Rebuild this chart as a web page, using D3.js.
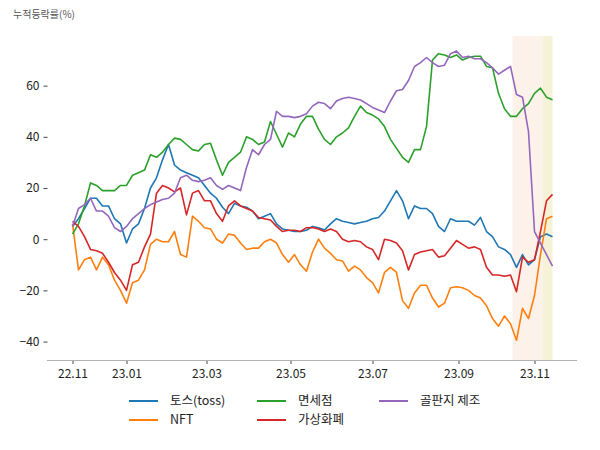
<!DOCTYPE html>
<meta charset="utf-8">

<!-- Load d3.js -->
<script src="https://d3js.org/d3.v7.min.js"></script>

<!-- Create a div where the graph will take place -->
<div id="my_dataviz"></div>

<style>
  body { margin: 0; background: #ffffff; }
  text { font-family: "Noto Sans CJK KR", "Noto Sans", sans-serif; }
</style>

<script>

// trading-day index of each sampled point (0 = 2022-11-23)
var days = [0,3,6,9,12,15,18,21,24,27,30,33,36,39,42,45,48,51,54,57,
  60,63,66,69,72,75,78,81,84,87,90,93,96,99,102,105,108,111,114,117,
  120,123,126,129,132,135,138,141,144,147,150,153,156,159,162,165,168,171,174,177,
  180,183,186,189,192,195,198,201,204,207,210,213,216,219,222,225,228,231,234,237,240];

// x tick labels and the trading day they sit on
var tickDays = [0, 27, 67, 109, 150, 193, 231];
var tickLabels = ["22.11", "23.01", "23.03", "23.05", "23.07", "23.09", "23.11"];

var yTicks = [-40, -20, 0, 20, 40, 60];

// shaded periods (trading day index)
var spanStart = [220, 235];
var spanEnd = [235, 240];

var seriesNames = ["토스(toss)", "NFT", "면세점", "가상화폐", "골판지 제조"];

var tossValues = [5,8,12,16,16,13,13,8,6,-1.5,
  4,6,12,20,24,31,37,29,27,26,
  25,24,21,18,16,12.5,10,14,13,12.5,
  11,8,9,10,6,4,3.5,3,3,3.5,
  5,4.5,3.6,6,8,7,6.5,6,6.5,7,
  8,8.5,11,15,19,15,8,13,12,12,
  10,5,3,8,7,7,7,5.5,8.5,3,
  1,-3,-4,-6,-11,-6,-10,-8,1,2,1];

var nftValues = [6,-12,-8,-7,-12,-7,-10,-16,-20,-25,
  -17,-16,-12,-2,0,-1,-1,3,-6,-7,
  9,7,4.5,4,0,-1.5,2,1.5,-1.5,-4,
  -3.5,-3.5,-1,0,-1.5,-6,-9,-6,-10,-12.5,
  -5,0,-3.5,-5.5,-8,-8.5,-12.5,-10.5,-12,-15,
  -17,-21,-13,-11,-13,-24,-27,-21,-18,-18,
  -23,-26.5,-25,-19,-18.6,-19,-20,-22,-23,-26,
  -31,-34,-30,-33,-39.5,-27,-31,-22,-6,8,9];

var dutyFreeValues = [2,6,13,22,21,19,19,19,21,21,
  25,26,27,33,32,34,37,39.5,39,37,
  35,34.5,37,37.5,31,25,30,32,34,40,
  39,37,38,46,41,36,41.5,40,45,48,
  48,43,39,37,40,41.5,43.5,48,52,49.5,
  48.5,47,44,39,35.5,32,30,35,35,44,
  70,72.5,72,71,72,70,71,71.5,71.5,67.5,
  67,57,51,48,48,51,53,57,59,55.5,54.5];

// note: "crypto" is taken by window.crypto, so use another name
var coinValues = [7,5,1,-4,-4.5,-5.5,-9,-13,-16,-20,
  -10,-9,-3,2,18,21,20,18.5,20,9.5,
  18,19,15,15,10,7,13,15,13,12,
  11,8.5,8,7.5,5,3,3.5,3.5,3,4.5,
  4.6,4,3,4,3,0,-1,-0.5,-1,-3,
  -4,-8,0,-0.5,-1.5,-4.5,-12,-6,-5,-4.5,
  -4,-7,-6.5,-3.5,-0.5,-2,-3.5,-3,-4,-11,
  -14,-14,-14.5,-14,-20.5,-7,-9,-8,3,15,17.5];

var boxboardValues = [5,12,13.5,16,11,11,9,4.5,3,5,
  8,10,12,13.5,14.5,15.5,16,18,24,25,
  23,22.5,23,24,21,19.5,21,20,19,28,
  35,33,37,39,50,48,48,47.5,48,49,
  52,53.5,53,51,54,55,55.5,55,54.4,53,
  51.5,50.5,49.5,54,58,58.5,62,67.5,69,71,
  69,67.5,68,72.5,73.5,71,71.5,70.5,70.5,69,
  67,64.5,66,67.5,56.5,55.5,42,3,-1.5,-6,-10.5];

var seriesValues = [tossValues, nftValues, dutyFreeValues, coinValues, boxboardValues];
var colors = ["#1f77b4", "#ff7f0e", "#2ca02c", "#d62728", "#9467bd"];
var spanColors = ["#fcf2ea", "#f5f2d8"];

// set the dimensions of the graph
var width = 600, height = 450;
var plotTop = 36, plotBottom = 360, plotLeft = 47, plotRight = 577;

var svg = d3.select("#my_dataviz")
  .append("svg")
    .attr("width", width)
    .attr("height", height);

// scales (x = trading day index, with 5% side margins)
var x = d3.scaleLinear()
  .domain([-12, 252])
  .range([48.5, 576.5]);

var y = d3.scaleLinear()
  .domain([-47.2, 79.4])
  .range([plotBottom, plotTop]);

// shaded periods
svg.selectAll("spans")
  .data(spanStart)
  .enter()
  .append("rect")
    .attr("x", function(d) { return x(d); })
    .attr("width", function(d, i) { return x(spanEnd[i]) - x(d); })
    .attr("y", plotTop)
    .attr("height", plotBottom - plotTop)
    .style("fill", function(d, i) { return spanColors[i]; });

// Y axis (no spine)
var yAxis = svg.append("g")
  .attr("transform", "translate(47.5,0)")
  .call(d3.axisLeft(y).tickValues(yTicks).tickSize(4).tickPadding(4));
yAxis.select(".domain").remove();
yAxis.selectAll("line").style("stroke", "#444");
yAxis.selectAll("text").style("font-size", "12px").style("fill", "#222");

// X axis
var xAxis = svg.append("g")
  .attr("transform", "translate(0," + plotBottom + ")")
  .call(d3.axisBottom(x)
    .tickValues(tickDays)
    .tickFormat(function(d, i) { return tickLabels[i]; })
    .tickSize(4).tickPadding(5));
xAxis.select(".domain").remove();
xAxis.selectAll("line").style("stroke", "#444");
xAxis.selectAll("text").style("font-size", "12px").style("fill", "#222");

svg.append("line")
  .attr("x1", plotLeft).attr("x2", plotRight)
  .attr("y1", plotBottom + 0.5).attr("y2", plotBottom + 0.5)
  .style("stroke", "#b0b0b0")
  .style("stroke-width", 1);

// Draw the lines
var line = d3.line()
  .x(function(d, i) { return x(days[i]); })
  .y(function(d) { return y(d); });

svg.selectAll("myPath")
  .data(seriesValues)
  .enter()
  .append("path")
    .attr("d", line)
    .style("fill", "none")
    .style("stroke", function(d, i) { return colors[i]; })
    .style("stroke-width", 1.6)
    .style("stroke-linejoin", "round");

// axis title
svg.append("text")
  .attr("x", 13)
  .attr("y", 18)
  .style("font-size", "10px")
  .style("fill", "#555")
  .text("누적등락률(%)");

// legend (3 columns, filled column by column)
var legCols = [129, 257, 379];
var legRows = [401, 420];
var legend = svg.selectAll("legend")
  .data(seriesNames)
  .enter()
  .append("g")
    .attr("transform", function(d, i) {
      return "translate(" + legCols[Math.floor(i / 2)] + "," + legRows[i % 2] + ")";
    });

legend.append("line")
  .attr("x1", 0).attr("x2", 29)
  .attr("y1", 0).attr("y2", 0)
  .style("stroke", function(d, i) { return colors[i]; })
  .style("stroke-width", 2);

legend.append("text")
  .attr("x", 41)
  .attr("y", 0)
  .attr("dy", "0.35em")
  .style("font-size", "12.5px")
  .style("fill", "#222")
  .text(function(d) { return d; });

</script>
